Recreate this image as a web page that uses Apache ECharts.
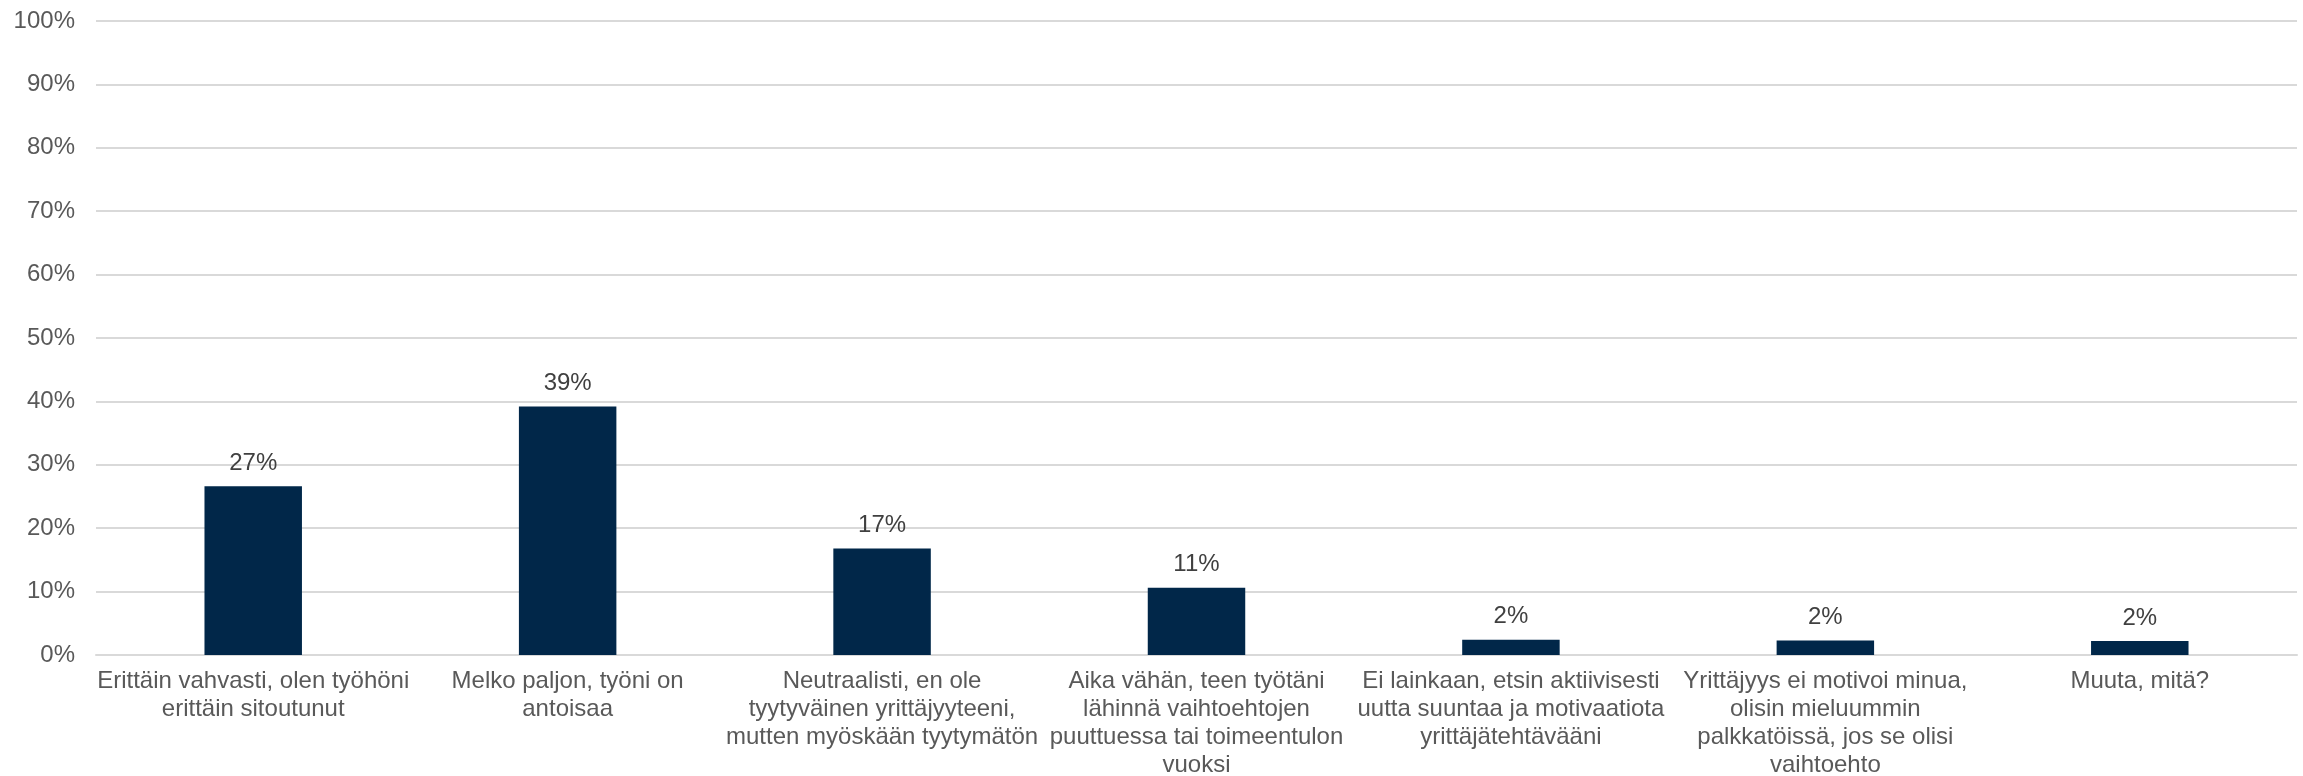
<!DOCTYPE html>
<html>
<head>
<meta charset="utf-8">
<script src="https://cdn.jsdelivr.net/npm/echarts@6/dist/echarts.min.js"></script>
<style>
html,body{margin:0;padding:0;background:#fff;}
#chart{width:2303px;height:776px;}
</style>
</head>
<body>
<div id="chart"></div>
<script>
const categories = [
  "Erittäin vahvasti, olen työhöni\nerittäin sitoutunut",
  "Melko paljon, työni on\nantoisaa",
  "Neutraalisti, en ole\ntyytyväinen yrittäjyyteeni,\nmutten myöskään tyytymätön",
  "Aika vähän, teen työtäni\nlähinnä vaihtoehtojen\npuuttuessa tai toimeentulon\nvuoksi",
  "Ei lainkaan, etsin aktiivisesti\nuutta suuntaa ja motivaatiota\nyrittäjätehtävääni",
  "Yrittäjyys ei motivoi minua,\nolisin mieluummin\npalkkatöissä, jos se olisi\nvaihtoehto",
  "Muuta, mitä?"
];
const values = [26.6, 39.2, 16.8, 10.6, 2.4, 2.3, 2.2];
const yTicks = { min: 0, max: 100, interval: 10 };

const chart = echarts.init(document.getElementById('chart'), null, { renderer: 'canvas' });
const font = 'Liberation Sans, Arial, sans-serif';
chart.setOption({
  animation: false,
  backgroundColor: '#ffffff',
  grid: { left: 96, right: 6, top: 21, bottom: 121, containLabel: false, outerBoundsMode: 'none' },
  xAxis: {
    type: 'category',
    data: categories,
    axisLine: { show: true, lineStyle: { color: '#d9d9d9', width: 2 } },
    axisTick: { show: false },
    axisLabel: {
      interval: 0,
      color: '#595959',
      fontFamily: font,
      fontSize: 24,
      lineHeight: 28.2,
      margin: 12,
      align: 'center'
    }
  },
  yAxis: {
    type: 'value',
    min: yTicks.min,
    max: yTicks.max,
    interval: yTicks.interval,
    axisLine: { show: false },
    axisTick: { show: false },
    splitLine: { lineStyle: { color: '#d9d9d9', width: 2 } },
    axisLabel: {
      color: '#595959',
      fontFamily: font,
      fontSize: 24,
      margin: 21,
      formatter: v => v + '%'
    }
  },
  series: [{
    type: 'bar',
    data: values,
    barWidth: '31%',
    itemStyle: { color: '#012749' },
    label: {
      show: true,
      position: 'top',
      distance: 11,
      color: '#404040',
      fontFamily: font,
      fontSize: 24,
      formatter: p => Math.round(p.value) + '%'
    }
  }]
});
</script>
</body>
</html>
